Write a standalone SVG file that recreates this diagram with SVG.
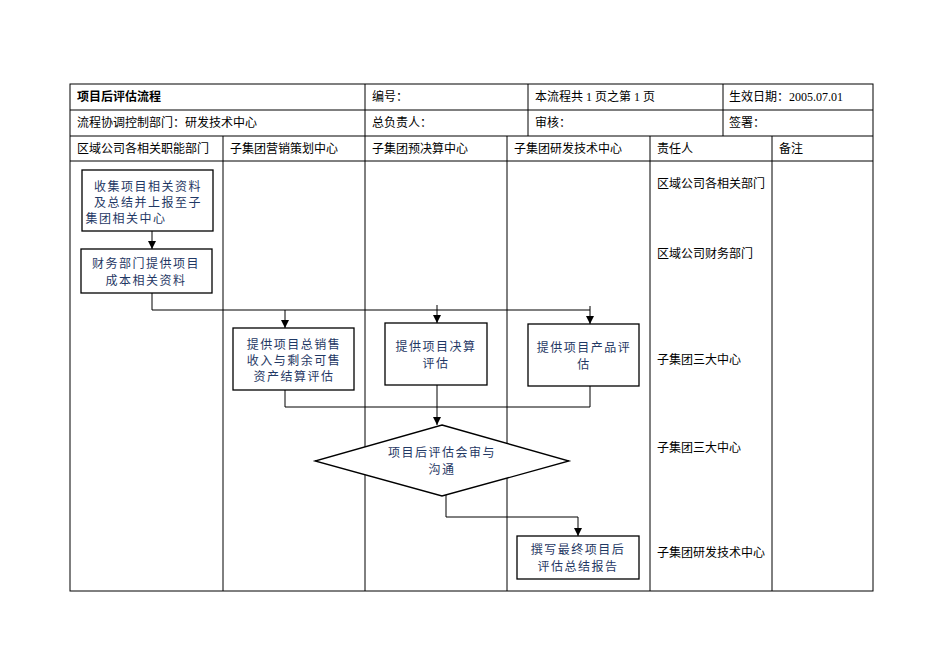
<svg xmlns="http://www.w3.org/2000/svg" width="950" height="672" viewBox="0 0 950 672">
<defs>
<style>
.g{stroke:#000;stroke-width:1;fill:none}
.b{fill:#fff;stroke:#000;stroke-width:1.3}
.t{font-family:"Liberation Serif","Noto Sans CJK SC",serif;font-size:12px;fill:#000}
.n{font-family:"Noto Sans CJK SC",sans-serif;font-size:12px;fill:#1f3864;text-anchor:middle;letter-spacing:1.5px}
.c{stroke:#000;stroke-width:1;fill:none}
</style>
<marker id="a" markerWidth="8" markerHeight="8" refX="8" refY="4" orient="auto" markerUnits="userSpaceOnUse"><path d="M0,0L8,4L0,8z" fill="#000"/></marker>
</defs>
<rect width="950" height="672" fill="#fff"/>
<g id="table">
<rect class="g" x="70" y="84" width="803" height="507"/>
<path class="g" d="M70 110H873M70 136H873M70 161H873M365 84V136M528 84V136M723 84V136M223 136V591M365 136V591M507 136V591M650 136V591M772 136V591"/>
<text class="t" x="77" y="101" font-weight="bold">项目后评估流程</text>
<text class="t" x="372" y="101">编号：</text>
<text class="t" x="535" y="101">本流程共 1 页之第 1 页</text>
<text class="t" x="729" y="101">生效日期：2005.07.01</text>
<text class="t" x="77" y="127">流程协调控制部门：研发技术中心</text>
<text class="t" x="372" y="127">总负责人：</text>
<text class="t" x="535" y="127">审核：</text>
<text class="t" x="729" y="127">签署：</text>
<text class="t" x="77" y="153">区域公司各相关职能部门</text>
<text class="t" x="230" y="153">子集团营销策划中心</text>
<text class="t" x="372" y="153">子集团预决算中心</text>
<text class="t" x="514" y="153">子集团研发技术中心</text>
<text class="t" x="657" y="153">责任人</text>
<text class="t" x="779" y="153">备注</text>
<text class="t" x="657" y="188">区域公司各相关部门</text>
<text class="t" x="657" y="258">区域公司财务部门</text>
<text class="t" x="657" y="364">子集团三大中心</text>
<text class="t" x="657" y="452">子集团三大中心</text>
<text class="t" x="657" y="557">子集团研发技术中心</text>
</g>
<g id="connectors">
<path class="c" d="M152 231V249" marker-end="url(#a)"/>
<path class="c" d="M152 293V310H590"/>
<path class="c" d="M285 310V328" marker-end="url(#a)"/>
<path class="c" d="M437 305V323" marker-end="url(#a)"/>
<path class="c" d="M590 306V324" marker-end="url(#a)"/>
<path class="c" d="M285 390V407H590V386"/>
<path class="c" d="M437 385V425" marker-end="url(#a)"/>
<path class="c" d="M446 495V517H578V536" marker-end="url(#a)"/>
</g>
<g id="n1"><rect class="b" x="82" y="170" width="131" height="61"/><text class="n" x="148" y="191">收集项目相关资料</text><text class="n" x="148" y="207">及总结并上报至子</text><text class="n" x="126" y="223">集团相关中心</text></g>
<g id="n2"><rect class="b" x="81" y="249" width="131" height="44"/><text class="n" x="146" y="268">财务部门提供项目</text><text class="n" x="146" y="285">成本相关资料</text></g>
<g id="n3"><rect class="b" x="233" y="328" width="121" height="62"/><text class="n" x="294" y="349">提供项目总销售</text><text class="n" x="294" y="365">收入与剩余可售</text><text class="n" x="294" y="381">资产结算评估</text></g>
<g id="n4"><rect class="b" x="385" y="323" width="102" height="62"/><text class="n" x="436" y="351">提供项目决算</text><text class="n" x="436" y="368">评估</text></g>
<g id="n5"><rect class="b" x="528" y="324" width="111" height="62"/><text class="n" x="584" y="352">提供项目产品评</text><text class="n" x="584" y="369">估</text></g>
<g id="n6"><polygon class="b" points="442,425 569,461 442,496 315,461"/><text class="n" x="442" y="457">项目后评估会审与</text><text class="n" x="442" y="474">沟通</text></g>
<g id="n7"><rect class="b" x="517" y="536" width="122" height="43"/><text class="n" x="578" y="554">撰写最终项目后</text><text class="n" x="578" y="571">评估总结报告</text></g>
</svg>
